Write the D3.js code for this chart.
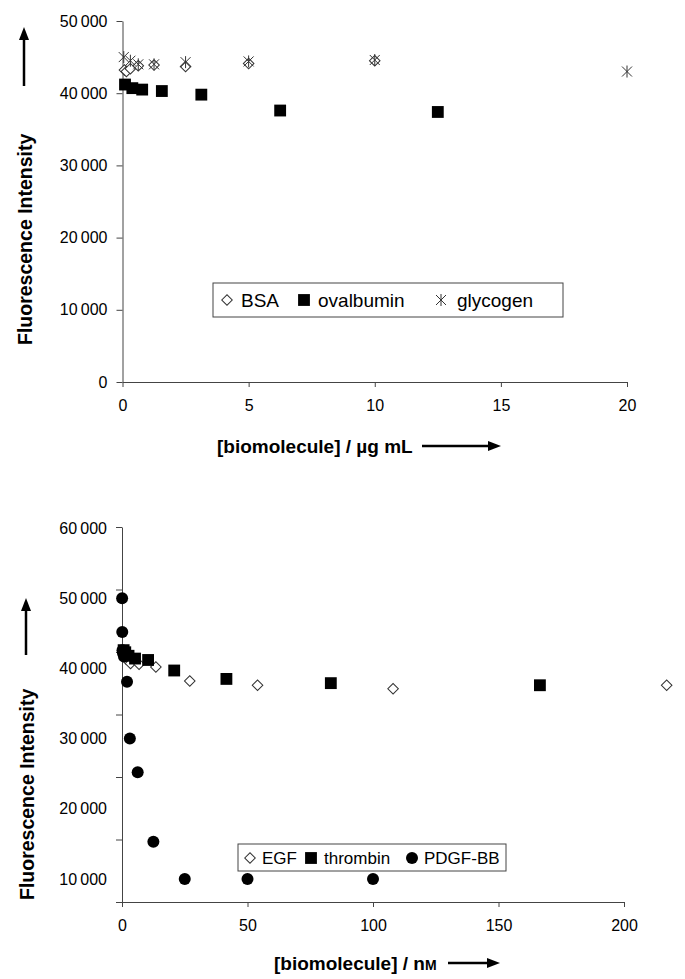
<!DOCTYPE html>
<html>
<head>
<meta charset="utf-8">
<script src="https://cdn.jsdelivr.net/npm/d3@7"></script>
<style>
body { margin: 0; background: #fff; }
text { font-family: "Liberation Sans", Arial, sans-serif; fill: #000; }
.axis .domain, .axis .tick line { stroke: #444; stroke-width: 1; }
.axis text { font-size: 16px; }
.aText { font-size: 19px; font-weight: bold; }
.yTitle { font-size: 19.5px; font-weight: bold; }
</style>
</head>
<body>
<div id="chart"></div>
<script>
// ---- top panel data (ug/mL) ----
var bsaX = [0.078, 0.156, 0.3125, 0.625, 1.25, 2.5, 5, 10];
var bsaY = [43200, 43000, 43400, 43800, 43900, 43700, 44100, 44500];
var ovaX = [0.1, 0.39, 0.78, 1.56, 3.125, 6.25, 12.5];
var ovaY = [41200, 40700, 40500, 40300, 39800, 37600, 37400];
var glyX = [0.05, 0.3125, 0.625, 1.25, 2.5, 5, 10, 20];
var glyY = [45000, 44500, 44000, 44000, 44300, 44400, 44600, 43000];
var topXTicks = [0, 5, 10, 15, 20];
var topYTicks = [0, 10000, 20000, 30000, 40000, 50000];

// ---- bottom panel data (nM), read against the printed labels ----
var egfX = [0.42, 0.85, 1.7, 3.4, 6.8, 13.5, 27, 54, 108, 217];
var egfY = [42300, 42000, 41300, 40700, 40600, 40200, 38200, 37600, 37100, 37600];
var thrX = [0.65, 1.3, 2.6, 5.2, 10.4, 20.8, 41.6, 83.2, 166.5];
var thrY = [42600, 42300, 41800, 41400, 41200, 39700, 38500, 37900, 37600];
var pdgX = [0.05, 0.1, 0.2, 0.39, 0.78, 2, 3.125, 6.25, 12.5, 25, 50, 100];
var pdgY = [50000, 45200, 42600, 42200, 41700, 38100, 30000, 25200, 15300, 10000, 10000, 10000];
var botXTicks = [0, 50, 100, 150, 200];
var botYLabels = [10000, 20000, 30000, 40000, 50000, 60000];
var botYMarks = 7; // tick marks on the printed axis (not aligned to labels)

var svgWidth = 685;
var svgHeight = 979;

var svg = d3.select("#chart")
    .append("svg")
    .attr("width", svgWidth)
    .attr("height", svgHeight);

var fmt = function(d) {
    var s = String(d);
    return s.length > 3 ? s.slice(0, s.length - 3) + "\u2009" + s.slice(-3) : s;
};

// marker helpers
var diamond = d3.symbol().type(d3.symbolSquare).size(56)();
var square = d3.symbol().type(d3.symbolSquare).size(140)();
var star = "M0,-6V6M-5,-5L5,5M-5,5L5,-5";

function drawMarks(g, xs, ys, x, y, kind) {
    var pts = xs.map(function(v, i) { return [v, ys[i]]; });
    var sel = g.selectAll(null).data(pts).enter();
    if (kind === "circle") {
        sel.append("circle")
            .attr("cx", d => x(d[0]))
            .attr("cy", d => y(d[1]))
            .attr("r", 6)
            .attr("fill", "#000");
    } else {
        sel.append("path")
            .attr("d", kind === "diamond" ? diamond : kind === "square" ? square : star)
            .attr("transform", d => `translate(${x(d[0])},${y(d[1])})` + (kind === "diamond" ? " rotate(45)" : ""))
            .attr("fill", kind === "square" ? "#000" : "#fff")
            .attr("fill-opacity", kind === "star" ? 0 : 1)
            .attr("stroke", kind === "square" ? "none" : "#333")
            .attr("stroke-width", 1);
    }
}

function legendMark(g, cx, cy, kind) {
    var x = d3.scaleLinear().domain([0, 1]).range([cx, cx + 1]);
    var y = d3.scaleLinear().domain([0, 1]).range([cy, cy + 1]);
    drawMarks(g, [0], [0], x, y, kind);
}

function arrow(g, x1, y1, x2, y2) {
    var ang = Math.atan2(y2 - y1, x2 - x1);
    g.append("line")
        .attr("x1", x1).attr("y1", y1)
        .attr("x2", x2 - 8 * Math.cos(ang))
        .attr("y2", y2 - 8 * Math.sin(ang))
        .attr("stroke", "#000").attr("stroke-width", 2.5);
    g.append("path")
        .attr("d", "M0,0L-13,-5L-13,5Z")
        .attr("transform", `translate(${x2},${y2}) rotate(${ang * 180 / Math.PI})`)
        .attr("fill", "#000");
}

// ================= top panel =================
var topG = svg.append("g");

var xTop = d3.scaleLinear().domain([0, 20]).range([122.5, 627]);
var yTop = d3.scaleLinear().domain([0, 50000]).range([382, 21]);

topG.append("g")
    .attr("class", "axis")
    .attr("transform", "translate(0,382)")
    .call(d3.axisBottom(xTop).tickValues(topXTicks).tickSize(5).tickSizeOuter(0).tickPadding(13));

topG.append("g")
    .attr("class", "axis")
    .attr("transform", "translate(122.5,0)")
    .call(d3.axisLeft(yTop).tickValues(topYTicks).tickFormat(fmt).tickSize(6).tickSizeOuter(0).tickPadding(9));

drawMarks(topG, bsaX, bsaY, xTop, yTop, "diamond");
drawMarks(topG, ovaX, ovaY, xTop, yTop, "square");
drawMarks(topG, glyX, glyY, xTop, yTop, "star");

// legend
var leg1 = topG.append("g");
leg1.append("rect")
    .attr("x", 213).attr("y", 283).attr("width", 350).attr("height", 34)
    .attr("fill", "#fff").attr("stroke", "#444");
legendMark(leg1, 227, 300, "diamond");
leg1.append("text").attr("font-size", "19px").attr("x", 241).attr("y", 307).text("BSA");
legendMark(leg1, 304, 300, "square");
leg1.append("text").attr("font-size", "19px").attr("x", 318).attr("y", 307).text("ovalbumin");
legendMark(leg1, 441, 300, "star");
leg1.append("text").attr("font-size", "19px").attr("x", 457).attr("y", 307).text("glycogen");

// axis titles
topG.append("text")
    .attr("class", "yTitle")
    .attr("transform", "translate(32,345) rotate(-90)")
    .text("Fluorescence Intensity");
arrow(topG, 24, 86, 24, 27);

topG.append("text")
    .attr("class", "aText")
    .attr("x", 217).attr("y", 453)
    .text("[biomolecule] / \u00b5g mL");
arrow(topG, 422, 446, 501, 446);

// ================= bottom panel =================
var botG = svg.append("g");

var xBot = d3.scaleLinear().domain([0, 200]).range([122, 624]);
var yBot = d3.scaleLinear().domain([10000, 60000]).range([879, 528]);
// printed tick marks: evenly spaced from the x axis (902) up to 527
var yMarks = d3.scaleLinear().domain([0, botYMarks - 1]).range([902, 527]);

botG.append("g")
    .attr("class", "axis")
    .attr("transform", "translate(0,902)")
    .call(d3.axisBottom(xBot).tickValues(botXTicks).tickSize(5).tickSizeOuter(0).tickPadding(13));

botG.append("g")
    .attr("class", "axis")
    .attr("transform", "translate(122,0)")
    .call(d3.axisLeft(yMarks).tickValues(d3.range(botYMarks)).tickFormat("").tickSize(6).tickSizeOuter(0));

var yLab = botG.append("g")
    .attr("class", "axis")
    .attr("transform", "translate(122,0)")
    .call(d3.axisLeft(yBot).tickValues(botYLabels).tickFormat(fmt).tickSize(0).tickPadding(15));
yLab.select(".domain").remove();

drawMarks(botG, egfX, egfY, xBot, yBot, "diamond");
drawMarks(botG, thrX, thrY, xBot, yBot, "square");
drawMarks(botG, pdgX, pdgY, xBot, yBot, "circle");

var leg2 = botG.append("g");
leg2.append("rect")
    .attr("x", 238).attr("y", 844).attr("width", 268).attr("height", 27)
    .attr("fill", "#fff").attr("stroke", "#444");
legendMark(leg2, 250, 858, "diamond");
leg2.append("text").attr("font-size", "17px").attr("x", 262).attr("y", 864).text("EGF");
legendMark(leg2, 311, 858, "square");
leg2.append("text").attr("font-size", "17px").attr("x", 324).attr("y", 864).text("thrombin");
legendMark(leg2, 412, 858, "circle");
leg2.append("text").attr("font-size", "17px").attr("x", 424).attr("y", 864).text("PDGF-BB");

botG.append("text")
    .attr("class", "yTitle")
    .attr("transform", "translate(34,900) rotate(-90)")
    .text("Fluorescence Intensity");
arrow(botG, 26, 655, 26, 598);

var bt = botG.append("text")
    .attr("class", "aText")
    .attr("x", 274).attr("y", 970);
bt.append("tspan").text("[biomolecule] / n");
bt.append("tspan").attr("font-size", "14px").text("M");
arrow(botG, 448, 963, 500, 963);
</script>
</body>
</html>
